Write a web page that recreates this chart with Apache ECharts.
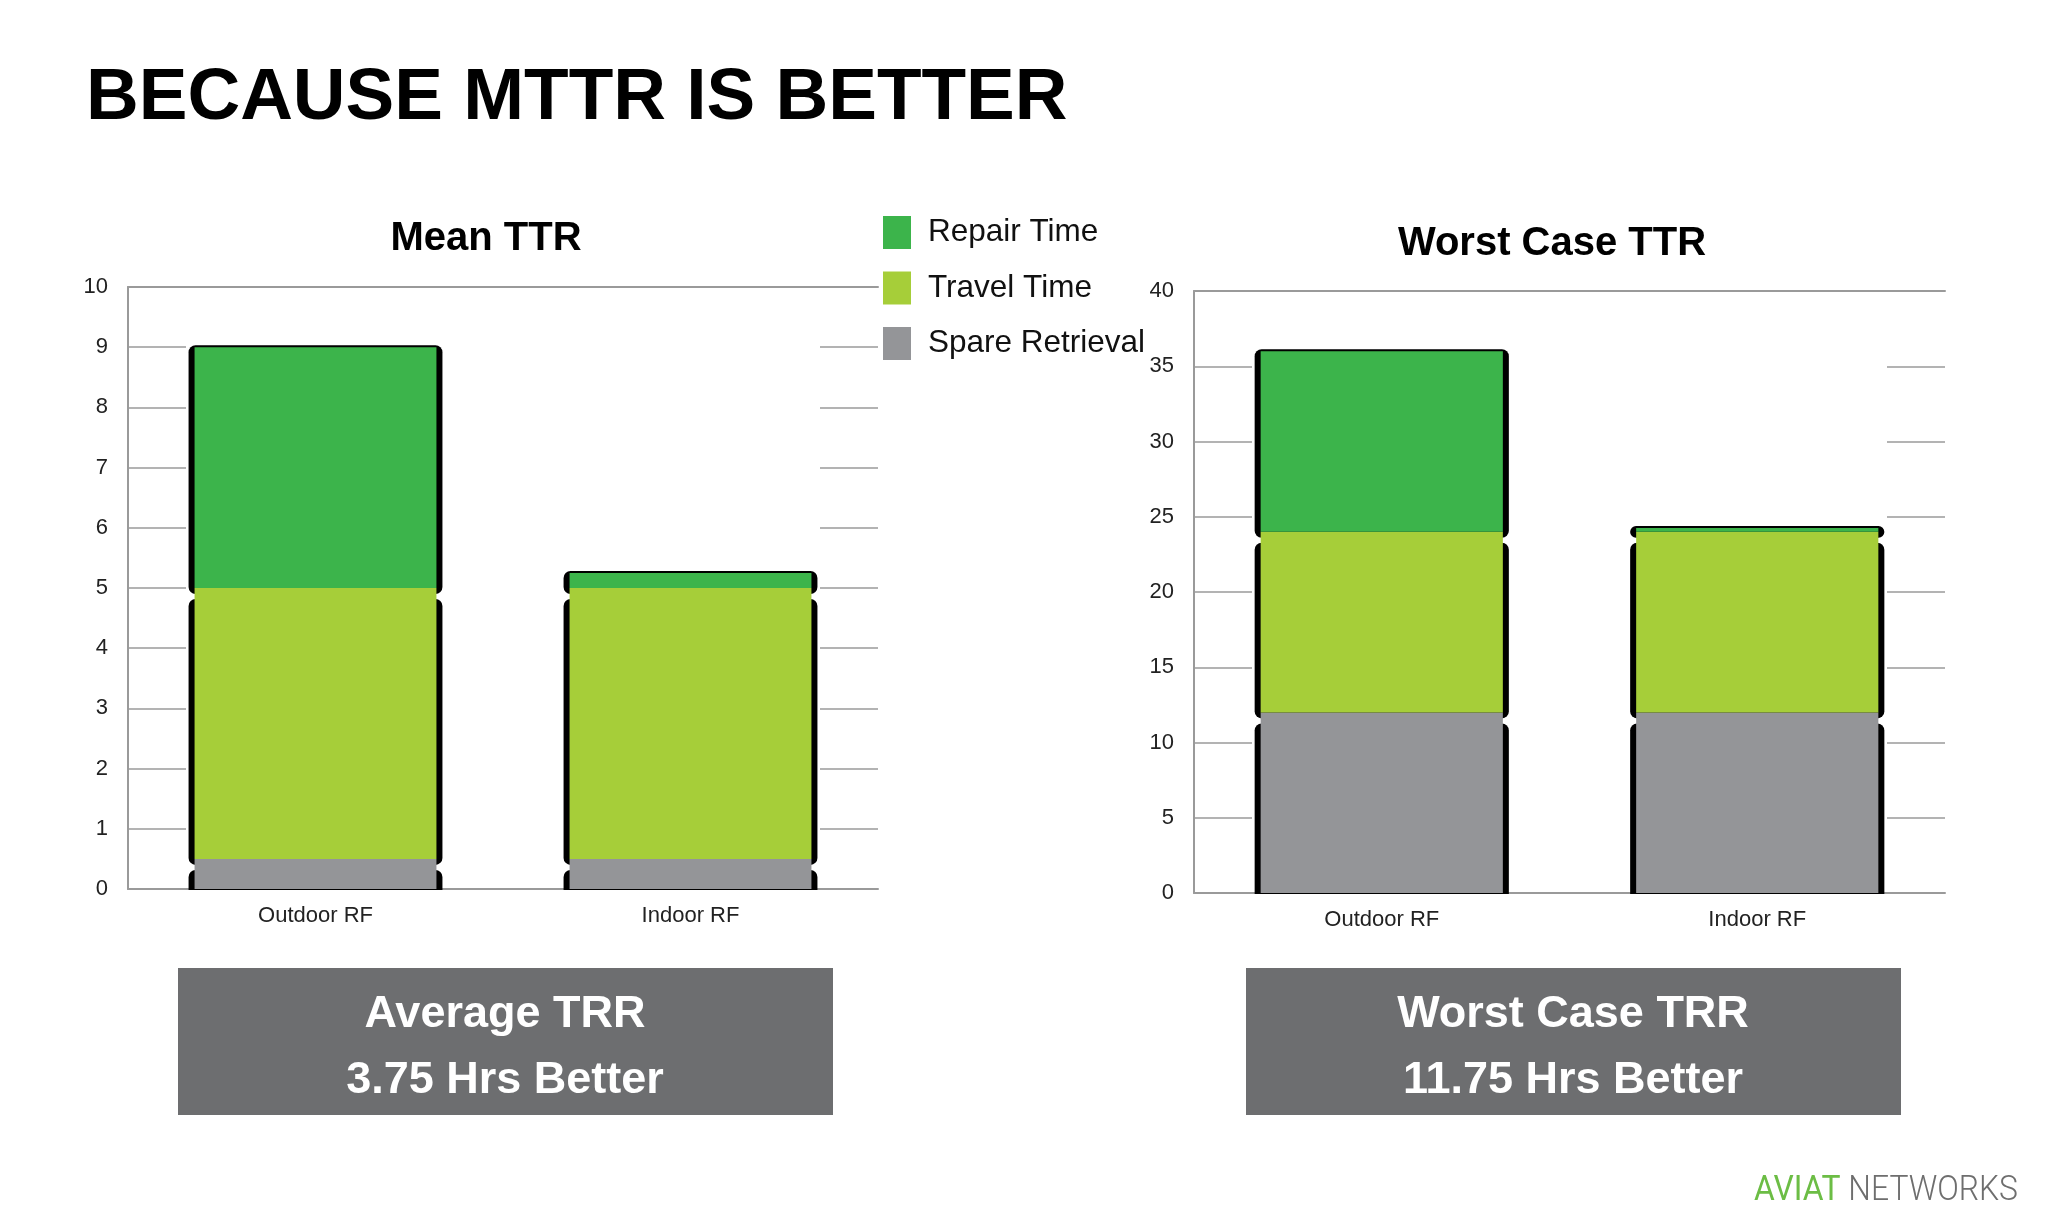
<!DOCTYPE html>
<html>
<head>
<meta charset="utf-8">
<script src="https://cdn.jsdelivr.net/npm/echarts@6/dist/echarts.min.js"></script>
<style>
html,body{margin:0;padding:0;background:#fff;}
#c{width:2048px;height:1229px;}
</style>
</head>
<body>
<div id="c"></div>
<script>
// ---- data ----
const categories = ['Outdoor RF', 'Indoor RF'];
const legendNames = ['Repair Time', 'Travel Time', 'Spare Retrieval'];
const meanSpare = [0.5, 0.5];
const meanTravel = [4.5, 4.5];
const meanRepair = [4, 0.25];
const worstSpare = [12, 12];
const worstTravel = [12, 12];
const worstRepair = [12, 0.25];
const meanAxis = { min: 0, max: 10, interval: 1 };
const worstAxis = { min: 0, max: 40, interval: 5 };
const mainTitle = 'BECAUSE MTTR IS BETTER';
const chartTitles = ['Mean TTR', 'Worst Case TTR'];
const boxLines = [['Average TRR', '3.75 Hrs Better'], ['Worst Case TRR', '11.75 Hrs Better']];

// ---- style ----
const FONT = 'Liberation Sans, Arial, Helvetica, sans-serif';
const C_REPAIR = '#3cb44b';
const C_TRAVEL = '#a6ce39';
const C_SPARE = '#949598';
const GRID_C = '#9a9a9a';
const BAR_RATIO = 0.645;
const EDGE = 6;

function frameData(stacks) {
  const out = [];
  categories.forEach((c, i) => {
    let base = 0;
    stacks.forEach((arr, k) => {
      const top = base + arr[i];
      out.push([i, base, top, k === stacks.length - 1 ? 1 : 0, k === 0 ? 1 : 0]);
      base = top;
    });
  });
  return out;
}

function renderFrame(params, api) {
  const c = api.value(0), s = api.value(1), e = api.value(2);
  const isTop = api.value(3), isBottom = api.value(4);
  const pB = api.coord([c, s]);
  const pT = api.coord([c, e]);
  const band = api.size([1, 0])[0];
  const w = band * BAR_RATIO + 2 * EDGE;
  const y0 = pT[1] + (isTop ? -2 : 11);
  const y1 = pB[1] + (isBottom ? 1 : 6);
  return {
    type: 'rect',
    shape: { x: pT[0] - w / 2, y: y0, width: w, height: Math.max(1, y1 - y0), r: isBottom ? [7, 7, 0, 0] : 7 },
    style: { fill: '#000' }
  };
}

function barSeries(name, data, color, xi, yi, stack) {
  return {
    name: name, type: 'bar', stack: stack, data: data, xAxisIndex: xi, yAxisIndex: yi,
    barWidth: (BAR_RATIO * 100) + '%', itemStyle: { color: color }, z: 3, silent: true
  };
}

function valueAxes(gridIndex, ax) {
  return [
    {
      type: 'value', gridIndex: gridIndex, position: 'left', min: ax.min, max: ax.max, interval: ax.interval,
      axisLine: { show: true, lineStyle: { color: GRID_C, width: 2 } },
      axisTick: { show: true, inside: true, length: 58, lineStyle: { color: GRID_C, width: 1.5 } },
      axisLabel: { color: '#222', fontSize: 22, fontFamily: FONT, margin: 20 },
      splitLine: { show: false }
    },
    {
      type: 'value', gridIndex: gridIndex, position: 'right', min: ax.min, max: ax.max, interval: ax.interval,
      axisLine: { show: false },
      axisTick: { show: true, inside: true, length: 58, lineStyle: { color: GRID_C, width: 1.5 } },
      axisLabel: { show: false },
      splitLine: { show: false }
    }
  ];
}

function catAxes(gridIndex) {
  return [
    {
      type: 'category', gridIndex: gridIndex, data: categories, position: 'bottom',
      axisLine: { show: true, onZero: false, lineStyle: { color: GRID_C, width: 2 } },
      axisTick: { show: false },
      axisLabel: { color: '#222', fontSize: 22, fontFamily: FONT, margin: 16 }
    },
    {
      type: 'category', gridIndex: gridIndex, data: categories, position: 'top',
      axisLine: { show: true, onZero: false, lineStyle: { color: GRID_C, width: 2 } },
      axisTick: { show: false }, axisLabel: { show: false }
    }
  ];
}

const chart = echarts.init(document.getElementById('c'), null, { renderer: 'canvas' });

const option = {
  backgroundColor: '#ffffff',
  animation: false,
  legend: {
    data: legendNames, orient: 'vertical', left: 878, top: 211,
    icon: 'rect', itemWidth: 28, itemHeight: 33, itemGap: 22.5,
    selectedMode: false,
    textStyle: { fontSize: 31.5, fontFamily: FONT, color: '#111', padding: [0, 0, 0, 12] }
  },
  grid: [
    { left: 128, right: 2048 - 878, top: 287, bottom: 1229 - 889 },
    { left: 1194, right: 2048 - 1945, top: 291, bottom: 1229 - 893 }
  ],
  xAxis: [].concat(catAxes(0), catAxes(1)),
  yAxis: [].concat(valueAxes(0, meanAxis), valueAxes(1, worstAxis)),
  series: [
    { type: 'custom', xAxisIndex: 0, yAxisIndex: 0, renderItem: renderFrame, data: frameData([meanSpare, meanTravel, meanRepair]), z: 1, silent: true },
    barSeries('Spare Retrieval', meanSpare, C_SPARE, 0, 0, 'mean'),
    barSeries('Travel Time', meanTravel, C_TRAVEL, 0, 0, 'mean'),
    barSeries('Repair Time', meanRepair, C_REPAIR, 0, 0, 'mean'),
    { type: 'custom', xAxisIndex: 2, yAxisIndex: 2, renderItem: renderFrame, data: frameData([worstSpare, worstTravel, worstRepair]), z: 1, silent: true },
    barSeries('Spare Retrieval', worstSpare, C_SPARE, 2, 2, 'worst'),
    barSeries('Travel Time', worstTravel, C_TRAVEL, 2, 2, 'worst'),
    barSeries('Repair Time', worstRepair, C_REPAIR, 2, 2, 'worst')
  ],
  graphic: [
    { type: 'text', x: 86, y: 99, style: { text: mainTitle, fontSize: 73, fontWeight: 'bold', fontFamily: FONT, fill: '#000', align: 'left', verticalAlign: 'middle' } },
    { type: 'text', x: 486, y: 239, style: { text: chartTitles[0], fontSize: 40, fontWeight: 'bold', fontFamily: FONT, fill: '#000', align: 'center', verticalAlign: 'middle' } },
    { type: 'text', x: 1552, y: 244, style: { text: chartTitles[1], fontSize: 40, fontWeight: 'bold', fontFamily: FONT, fill: '#000', align: 'center', verticalAlign: 'middle' } },
    { type: 'rect', shape: { x: 178, y: 968, width: 655, height: 147 }, style: { fill: '#6d6e70' } },
    { type: 'rect', shape: { x: 1246, y: 968, width: 655, height: 147 }, style: { fill: '#6d6e70' } },
    { type: 'text', x: 505, y: 1015, style: { text: boxLines[0][0], fontSize: 45, fontWeight: 'bold', fontFamily: FONT, fill: '#fff', align: 'center', verticalAlign: 'middle' } },
    { type: 'text', x: 505, y: 1081, style: { text: boxLines[0][1], fontSize: 45, fontWeight: 'bold', fontFamily: FONT, fill: '#fff', align: 'center', verticalAlign: 'middle' } },
    { type: 'text', x: 1573, y: 1015, style: { text: boxLines[1][0], fontSize: 45, fontWeight: 'bold', fontFamily: FONT, fill: '#fff', align: 'center', verticalAlign: 'middle' } },
    { type: 'text', x: 1573, y: 1081, style: { text: boxLines[1][1], fontSize: 45, fontWeight: 'bold', fontFamily: FONT, fill: '#fff', align: 'center', verticalAlign: 'middle' } },
    { type: 'text', x: 2018, y: 1191, scaleX: 0.91,
      style: { text: '{g|AVIAT} {n|NETWORKS}', align: 'right', verticalAlign: 'middle', fontFamily: 'Roboto, sans-serif', fontSize: 35, fontWeight: 400,
        rich: { g: { fill: '#6cbd45', fontSize: 35, fontWeight: 400, fontFamily: 'Roboto, sans-serif' }, n: { fill: '#6e6e6e', fontSize: 35, fontWeight: 300, fontFamily: 'Roboto, sans-serif' } } } }
  ]
};
chart.setOption(option);
</script>
</body>
</html>
